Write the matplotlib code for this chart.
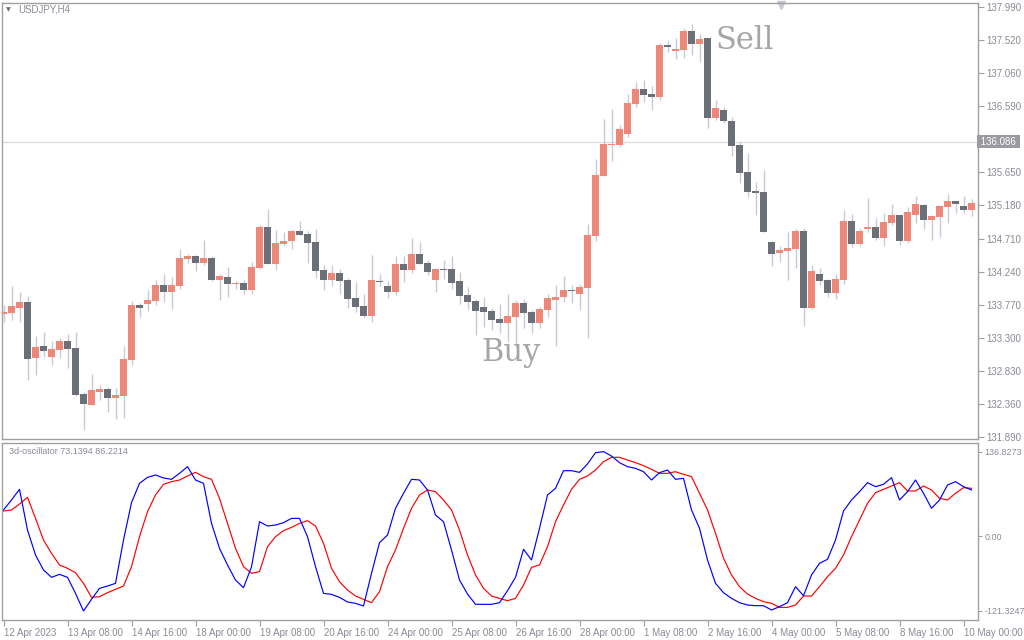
import matplotlib
matplotlib.use("Agg")
import matplotlib.pyplot as plt
import numpy as np

# USDJPY H4 candles
opens = [133.643, 133.658, 133.729, 133.809, 133.019, 133.185, 133.034, 133.133, 133.256, 133.157,
         132.504, 132.353, 132.533, 132.575, 132.452, 132.480, 132.991, 133.767, 133.785, 133.828,
         134.051, 133.956, 134.041, 134.419, 134.462, 134.367, 134.434, 134.126, 134.164, 134.069,
         134.079, 133.984, 134.296, 134.873, 134.353, 134.637, 134.679, 134.817, 134.774, 134.661,
         134.263, 134.126, 134.221, 134.122, 133.866, 133.753, 133.615, 134.112, 134.036, 133.956,
         134.349, 134.268, 134.490, 134.363, 134.126, 134.278, 134.278, 134.107, 133.909, 133.824,
         133.739, 133.682, 133.568, 133.516, 133.601, 133.795, 133.668, 133.516, 133.700, 133.842,
         133.880, 133.980, 133.927, 134.012, 134.750, 135.601, 136.037, 136.037, 136.193, 136.623,
         136.831, 136.760, 136.722, 137.455, 137.374, 137.389, 137.654, 137.474, 137.555, 136.424,
         136.533, 136.377, 136.037, 135.654, 135.384, 135.370, 134.661, 134.505, 134.533, 134.561,
         134.817, 133.724, 134.207, 134.122, 133.937, 134.122, 134.959, 134.632, 134.845, 134.873,
         134.717, 134.930, 135.044, 134.675, 135.044, 135.186, 134.973, 135.015, 135.157, 135.242,
         135.171, 135.115]
closes = [133.668, 133.753, 133.809, 133.005, 133.171, 133.119, 133.143, 133.256, 133.147, 132.494,
          132.367, 132.561, 132.575, 132.452, 132.490, 133.001, 133.767, 133.729, 133.838, 134.051,
          133.956, 134.051, 134.434, 134.462, 134.367, 134.434, 134.126, 134.178, 134.069, 134.083,
          133.984, 134.306, 134.873, 134.353, 134.646, 134.675, 134.817, 134.764, 134.651, 134.253,
          134.126, 134.221, 134.112, 133.856, 133.743, 133.615, 134.122, 134.097, 133.956, 134.349,
          134.268, 134.490, 134.353, 134.239, 134.278, 134.268, 134.083, 133.899, 133.814, 133.686,
          133.672, 133.558, 133.516, 133.611, 133.795, 133.653, 133.516, 133.710, 133.866, 133.880,
          133.980, 133.970, 134.022, 134.760, 135.611, 136.051, 136.051, 136.264, 136.632, 136.831,
          136.750, 136.722, 137.455, 137.431, 137.398, 137.654, 137.474, 137.540, 136.424, 136.562,
          136.381, 136.027, 135.644, 135.370, 135.356, 134.802, 134.490, 134.547, 134.576, 134.817,
          133.724, 134.249, 134.107, 133.937, 134.136, 134.959, 134.632, 134.817, 134.873, 134.717,
          134.944, 135.044, 134.675, 135.086, 135.200, 134.973, 135.029, 135.171, 135.242, 135.200,
          135.115, 135.214]
highs = [133.767, 134.036, 133.951, 133.895, 133.327, 133.384, 133.256, 133.299, 133.356, 133.384,
         132.533, 132.788, 132.632, 132.604, 132.589, 133.185, 133.824, 133.795, 133.980, 134.122,
         134.207, 134.164, 134.561, 134.490, 134.476, 134.689, 134.462, 134.207, 134.306, 134.112,
         134.122, 134.377, 134.902, 135.129, 134.831, 134.802, 134.831, 134.959, 134.817, 134.845,
         134.334, 134.334, 134.278, 134.150, 134.093, 133.923, 134.476, 134.207, 134.107, 134.462,
         134.462, 134.717, 134.661, 134.405, 134.292, 134.405, 134.462, 134.235, 134.022, 133.852,
         133.880, 133.724, 133.781, 133.923, 133.838, 133.852, 133.696, 133.739, 133.923, 134.051,
         134.178, 134.051, 134.065, 134.916, 135.838, 136.405, 136.547, 136.320, 136.760, 136.930,
         136.959, 136.874, 137.484, 137.512, 137.555, 137.696, 137.753, 137.611, 137.555, 136.675,
         136.576, 136.434, 136.079, 135.923, 135.512, 135.682, 134.675, 134.604, 134.802, 134.845,
         134.859, 134.334, 134.292, 134.136, 134.207, 135.115, 135.058, 134.859, 135.285, 135.001,
         135.072, 135.200, 135.044, 135.157, 135.313, 135.200, 135.044, 135.171, 135.342, 135.242,
         135.313, 135.271]
lows = [133.530, 133.554, 133.530, 132.707, 132.778, 133.034, 132.920, 133.019, 132.877, 132.480,
        131.998, 132.353, 132.423, 132.253, 132.154, 132.168, 132.920, 133.601, 133.686, 133.771,
        133.814, 133.714, 133.998, 134.367, 134.253, 134.339, 134.112, 133.842, 133.885, 133.998,
        133.927, 133.927, 134.282, 134.353, 134.268, 134.622, 134.566, 134.764, 134.367, 134.154,
        133.984, 134.041, 133.927, 133.729, 133.672, 133.587, 133.530, 134.041, 133.870, 133.913,
        134.097, 134.225, 134.353, 134.197, 133.956, 134.140, 133.998, 133.785, 133.714, 133.346,
        133.459, 133.416, 133.374, 133.246, 133.175, 133.445, 133.374, 133.436, 133.601, 133.190,
        133.814, 133.800, 133.700, 133.303, 134.679, 135.597, 135.814, 136.012, 136.150, 136.580,
        136.651, 136.537, 136.679, 137.360, 137.261, 137.275, 137.318, 137.218, 136.282, 136.396,
        136.353, 135.885, 135.498, 135.303, 135.044, 134.802, 134.320, 134.377, 134.122, 134.292,
        133.469, 133.710, 134.051, 133.880, 133.852, 134.065, 134.590, 134.604, 134.802, 134.689,
        134.604, 134.902, 134.618, 134.646, 134.930, 134.845, 134.689, 134.732, 134.930, 135.072,
        135.072, 135.029]

# 3d-oscillator lines
osc_blue = [42.2, 58.4, 75.7, 9.7, -30.8, -55.1, -67.0, -62.2, -67.0, -93.0,
            -121.6, -102.7, -84.9, -81.1, -76.8, -6.5, 54.1, 85.4, 95.1, 98.9,
            94.1, 91.9, 101.6, 112.4, 90.8, 85.4, 20.5, -20.0, -47.0, -71.4,
            -83.8, -50.0, 23.2, 16.2, 17.8, 21.6, 28.6, 28.6, -1.1, -49.7,
            -93.0, -94.6, -99.5, -107.0, -109.2, -113.5, -60.5, -10.8, 1.6, 44.9,
            69.2, 91.9, 90.8, 74.6, 34.1, 23.2, -22.7, -71.4, -94.1, -110.8,
            -110.8, -110.8, -108.1, -88.6, -67.0, -21.6, -38.9, 12.4, 66.5, 77.3,
            105.9, 105.9, 103.2, 116.8, 135.1, 136.8, 129.7, 118.9, 112.4, 109.7,
            104.3, 90.8, 102.7, 107.0, 91.9, 93.5, 42.2, 12.4, -38.9, -76.8,
            -91.9, -101.1, -108.1, -111.9, -113.0, -113.0, -120.0, -114.6, -108.1, -82.2,
            -96.8, -63.2, -44.3, -37.8, -6.5, 40.5, 58.4, 71.9, 86.5, 80.0,
            83.8, 94.6, 58.4, 71.9, 90.8, 69.2, 44.9, 58.4, 82.7, 88.1,
            80.0, 74.6]
osc_red = [40.5, 42.2, 51.9, 62.7, 28.6, -6.5, -28.1, -47.0, -52.4, -59.5,
           -76.8, -99.5, -98.4, -91.9, -86.5, -81.1, -49.7, -1.1, 39.5, 66.5,
           83.8, 88.1, 90.8, 97.3, 103.2, 96.2, 91.9, 61.1, 20.5, -20.0,
           -49.7, -60.5, -57.8, -17.3, -1.1, 8.6, 14.1, 20.5, 24.9, 16.2,
           -11.9, -52.4, -74.1, -87.6, -97.3, -102.7, -108.1, -90.3, -49.7, -22.7,
           12.4, 44.9, 66.5, 74.6, 71.9, 58.4, 42.2, 9.7, -30.8, -63.2,
           -84.9, -97.3, -101.1, -104.9, -101.1, -79.5, -50.8, -47.0, -17.3, 23.2,
           50.3, 75.7, 91.9, 97.3, 107.0, 120.5, 127.6, 127.6, 123.2, 118.9,
           114.1, 108.1, 101.6, 101.6, 104.3, 100.0, 96.2, 69.2, 42.2, 4.3,
           -36.2, -63.2, -82.2, -94.1, -101.1, -106.5, -109.2, -115.7, -115.7, -111.9,
           -97.3, -97.3, -82.2, -65.9, -52.4, -30.8, -1.1, 25.9, 53.0, 70.3,
           75.7, 81.1, 86.5, 73.0, 73.0, 81.1, 74.6, 61.1, 58.4, 69.2,
           78.4, 77.3]

price_ticks = [137.990, 137.520, 137.060, 136.590, 135.650, 135.180, 134.710,
               134.240, 133.770, 133.300, 132.830, 132.360, 131.890]
current_price = 136.086
osc_ticks = [136.8273, 0.0, -121.3247]
osc_tick_labels = ["136.8273", "0.00", "-121.3247"]
time_labels = ["12 Apr 2023", "13 Apr 08:00", "14 Apr 16:00", "18 Apr 00:00", "19 Apr 08:00",
               "20 Apr 16:00", "24 Apr 00:00", "25 Apr 08:00", "26 Apr 16:00", "28 Apr 00:00",
               "1 May 08:00", "2 May 16:00", "4 May 00:00", "5 May 08:00", "8 May 16:00",
               "10 May 00:00"]

UP = "#ef8778"
DOWN = "#6b6f78"
WICK = "#c8c9d3"
GRID = "#a0a0a0"
TXT = "#8a8a96"
FONT = "Liberation Sans"

o = np.array(opens); c = np.array(closes); h = np.array(highs); l = np.array(lows)
x = np.arange(len(o))

fig = plt.figure(figsize=(10.24, 6.4), dpi=100)
W, H = 1024, 640
ax = fig.add_axes([2 / W, 1 - 439 / H, 976 / W, 436 / H])
ax2 = fig.add_axes([2 / W, 1 - 620 / H, 976 / W, 177 / H])

xlim = (-0.1875, 121.81)

# candles
ax.vlines(x, l, h, color=WICK, linewidth=1.0, zorder=2)
bottom = np.minimum(o, c)
height = np.maximum(np.abs(c - o), 0.014)
colors = [UP if cc >= oo else DOWN for oo, cc in zip(o, c)]
ax.bar(x, height, bottom=bottom, width=0.82, color=colors, linewidth=0, zorder=3)

ax.axhline(current_price, color="#dcdce2", linewidth=1, zorder=1)
ax.set_xlim(*xlim)
ax.set_ylim(131.866, 138.051)
ax.set_xticks([])
ax.yaxis.tick_right()
ax.set_yticks(price_ticks)
ax.set_yticklabels(["%.3f" % p for p in price_ticks])
ax.tick_params(axis="y", length=4, color=GRID, labelcolor=TXT, labelsize=7, pad=2)
for lab in ax.get_yticklabels():
    lab.set_fontfamily(FONT)
ax.text(1.0, current_price, " 136.086 ", transform=ax.get_yaxis_transform(),
        ha="left", va="center", fontsize=7, family=FONT, color="white",
        bbox=dict(boxstyle="square,pad=0.15", facecolor="#9a9aa0", edgecolor="none"),
        clip_on=False)

ax.text(92.6, 137.526, "Sell", fontsize=22, family="DejaVu Serif", color="#a6a6a6",
        ha="center", va="center", zorder=5)
ax.text(63.4, 133.10, "Buy", fontsize=22, family="DejaVu Serif", color="#a6a6a6",
        ha="center", va="center", zorder=5)

fig.text(8 / W, 1 - 10 / H, "\u25bc", fontsize=4.5, color="#707070", ha="center", va="center")
fig.text(18 / W, 1 - 10 / H, "USDJPY,H4", fontsize=7, family=FONT, color=TXT, va="center")
ax.plot([781 / W], [1 - 5 / H], marker="v", markersize=6, color="#c8c8d8",
        transform=fig.transFigure, clip_on=False)

# oscillator
ax2.plot(x, osc_red, color="#ff0000", linewidth=0.85)
ax2.plot(x, osc_blue, color="#0000ff", linewidth=0.85)
ax2.set_xlim(*xlim)
ax2.set_ylim(-136.2, 150.8)
ax2.yaxis.tick_right()
ax2.set_yticks(osc_ticks)
ax2.set_yticklabels(osc_tick_labels)
ax2.tick_params(axis="y", length=3, color=GRID, labelcolor=TXT, labelsize=6.4, pad=1.5)
tick_pos = np.arange(0, len(o), 8)
ax2.set_xticks(tick_pos)
ax2.set_xticklabels(time_labels)
ax2.tick_params(axis="x", length=4, color=GRID, labelcolor=TXT, labelsize=7, pad=1.5)
for lab in ax2.get_xticklabels():
    lab.set_horizontalalignment("left")
    lab.set_fontfamily(FONT)
for lab in ax2.get_yticklabels():
    lab.set_fontfamily(FONT)
ax2.text(7 / 976, 1 - 8 / 177, "3d-oscillator 73.1394 86.2214", transform=ax2.transAxes,
         fontsize=6.5, family=FONT, color=TXT, va="center")

for a in (ax, ax2):
    for s in a.spines.values():
        s.set_color(GRID)
        s.set_linewidth(1)

fig.savefig("out.png", dpi=100, facecolor="white")
